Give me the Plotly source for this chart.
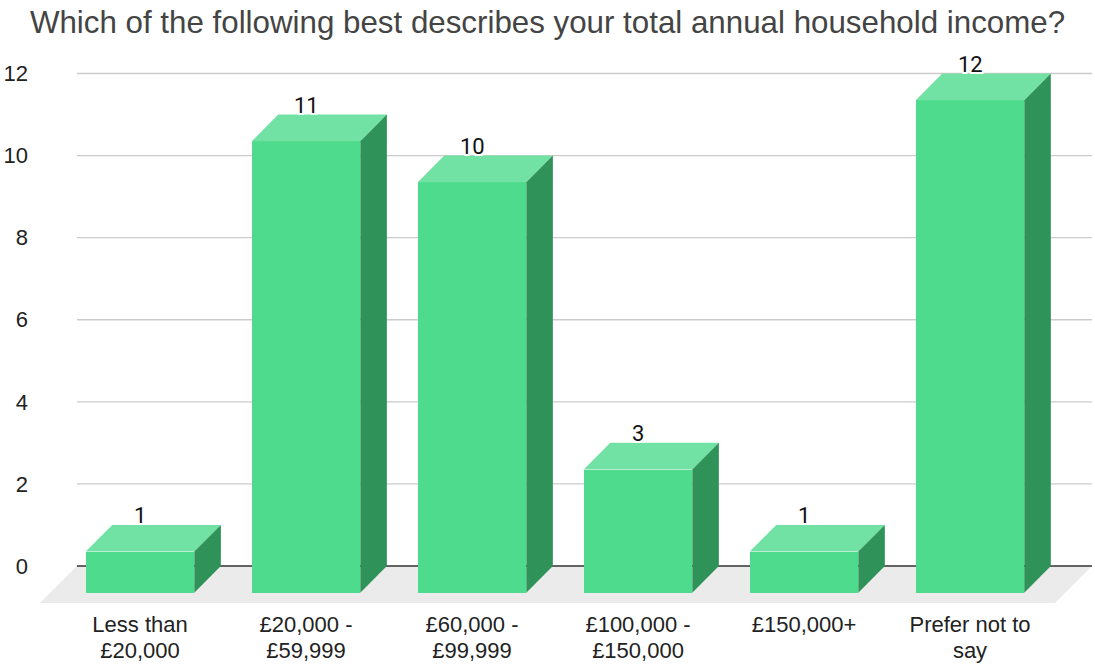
import plotly.graph_objects as go

# Survey responses: total annual household income
label_line1 = ["Less than", "£20,000 -", "£60,000 -", "£100,000 -", "£150,000+", "Prefer not to"]
label_line2 = ["£20,000", "£59,999", "£99,999", "£150,000", "", "say"]
counts = [1, 11, 10, 3, 1, 12]
y_ticks = [0, 2, 4, 6, 8, 10, 12]

title_text = "Which of the following best describes your total annual household income?"

# Colours of the three visible faces of each column
FRONT = "#4fdb8d"
TOP = "#72e2a4"
SIDE = "#2f9259"
FLOOR = "#ebebeb"
GRID = "#cccccc"
ZERO = "#333333"

# Pseudo-3D geometry (axis units)
BAR_W = 0.654           # width of a column's front face
DX, DY = 0.160, 0.650   # depth offset of columns (x units, y units)
FDX, FDY = 0.223, 0.90  # depth of the floor slab
WALL_L, WALL_R = -0.38, len(counts) - 1 + 0.735

xs = list(range(len(counts)))
fig = go.Figure()

# floor slab, wall gridlines and baseline sit underneath every trace
shapes = [dict(type="path", xref="x", yref="y", layer="below",
               path=f"M{WALL_L},0 L{WALL_R},0 L{WALL_R - FDX},{-FDY} L{WALL_L - FDX},{-FDY} Z",
               fillcolor=FLOOR, line=dict(width=0))]
for t in y_ticks[1:]:
    shapes.append(dict(type="line", xref="x", yref="y", layer="below",
                       x0=WALL_L, x1=WALL_R, y0=t, y1=t, line=dict(color=GRID, width=1.3)))
shapes.append(dict(type="line", xref="x", yref="y", layer="below",
                   x0=WALL_L, x1=WALL_R, y0=0, y1=0, line=dict(color=ZERO, width=1.5)))

# front faces
fig.add_trace(go.Bar(x=xs, y=counts, base=[-DY] * len(counts), width=BAR_W,
                     marker=dict(color=FRONT, line=dict(width=0)),
                     hoverinfo="skip", showlegend=False))

# top and side faces of each column
for i, v in enumerate(counts):
    x0, x1 = i - BAR_W / 2, i + BAR_W / 2
    fig.add_trace(go.Scatter(
        x=[x0, x1, x1 + DX, x0 + DX, x0],
        y=[v - DY, v - DY, v, v, v - DY],
        fill="toself", fillcolor=TOP, mode="none", hoverinfo="skip", showlegend=False))
    fig.add_trace(go.Scatter(
        x=[x1, x1 + DX, x1 + DX, x1, x1],
        y=[-DY, 0, v, v - DY, -DY],
        fill="toself", fillcolor=SIDE, mode="none", hoverinfo="skip", showlegend=False))

# value labels with a white halo
halo = ", ".join(f"{a}px {b}px 0 #ffffff" for a in (-1.5, 0, 1.5) for b in (-1.5, 0, 1.5))
annotations = [dict(x=i, y=v, xref="x", yref="y", text=str(v), showarrow=False,
                    xanchor="center", yanchor="bottom", yshift=-5,
                    font=dict(family="Roboto", size=22, color="#111111", shadow=halo))
               for i, v in enumerate(counts)]

tick_font = dict(family="Liberation Sans", size=22, color="#222222")
fig.update_layout(
    width=1095, height=667,
    margin=dict(l=38, r=0, t=52.5, b=60),
    plot_bgcolor="white", paper_bgcolor="white",
    shapes=shapes, annotations=annotations,
    title=dict(text=title_text, x=0.5, xanchor="center", y=0.967, yanchor="middle",
               font=dict(family="Liberation Sans", size=31.3, color="#444444")),
    bargap=0,
    xaxis=dict(range=[-0.6145, 5.753], tickvals=xs, ticktext=label_line1,
               showgrid=False, zeroline=False, showline=False, ticks="",
               ticklabelstandoff=2, tickfont=tick_font),
    xaxis2=dict(range=[-0.6145, 5.753], tickvals=xs, ticktext=label_line2,
                overlaying="x", side="bottom", matches="x",
                showgrid=False, zeroline=False, showline=False, ticks="",
                ticklabelstandoff=28, tickfont=tick_font),
    yaxis=dict(range=[-1.0, 12.5], tickvals=y_ticks, showgrid=False, zeroline=False,
               showline=False, ticks="", ticklabelstandoff=9,
               tickfont=dict(family="Liberation Sans", size=22, color="#222222")),
)
# an invisible trace keeps the second category axis active
fig.add_trace(go.Scatter(x=xs, y=[0] * len(xs), xaxis="x2", mode="none",
                         hoverinfo="skip", showlegend=False))

fig.write_html("out.html")
